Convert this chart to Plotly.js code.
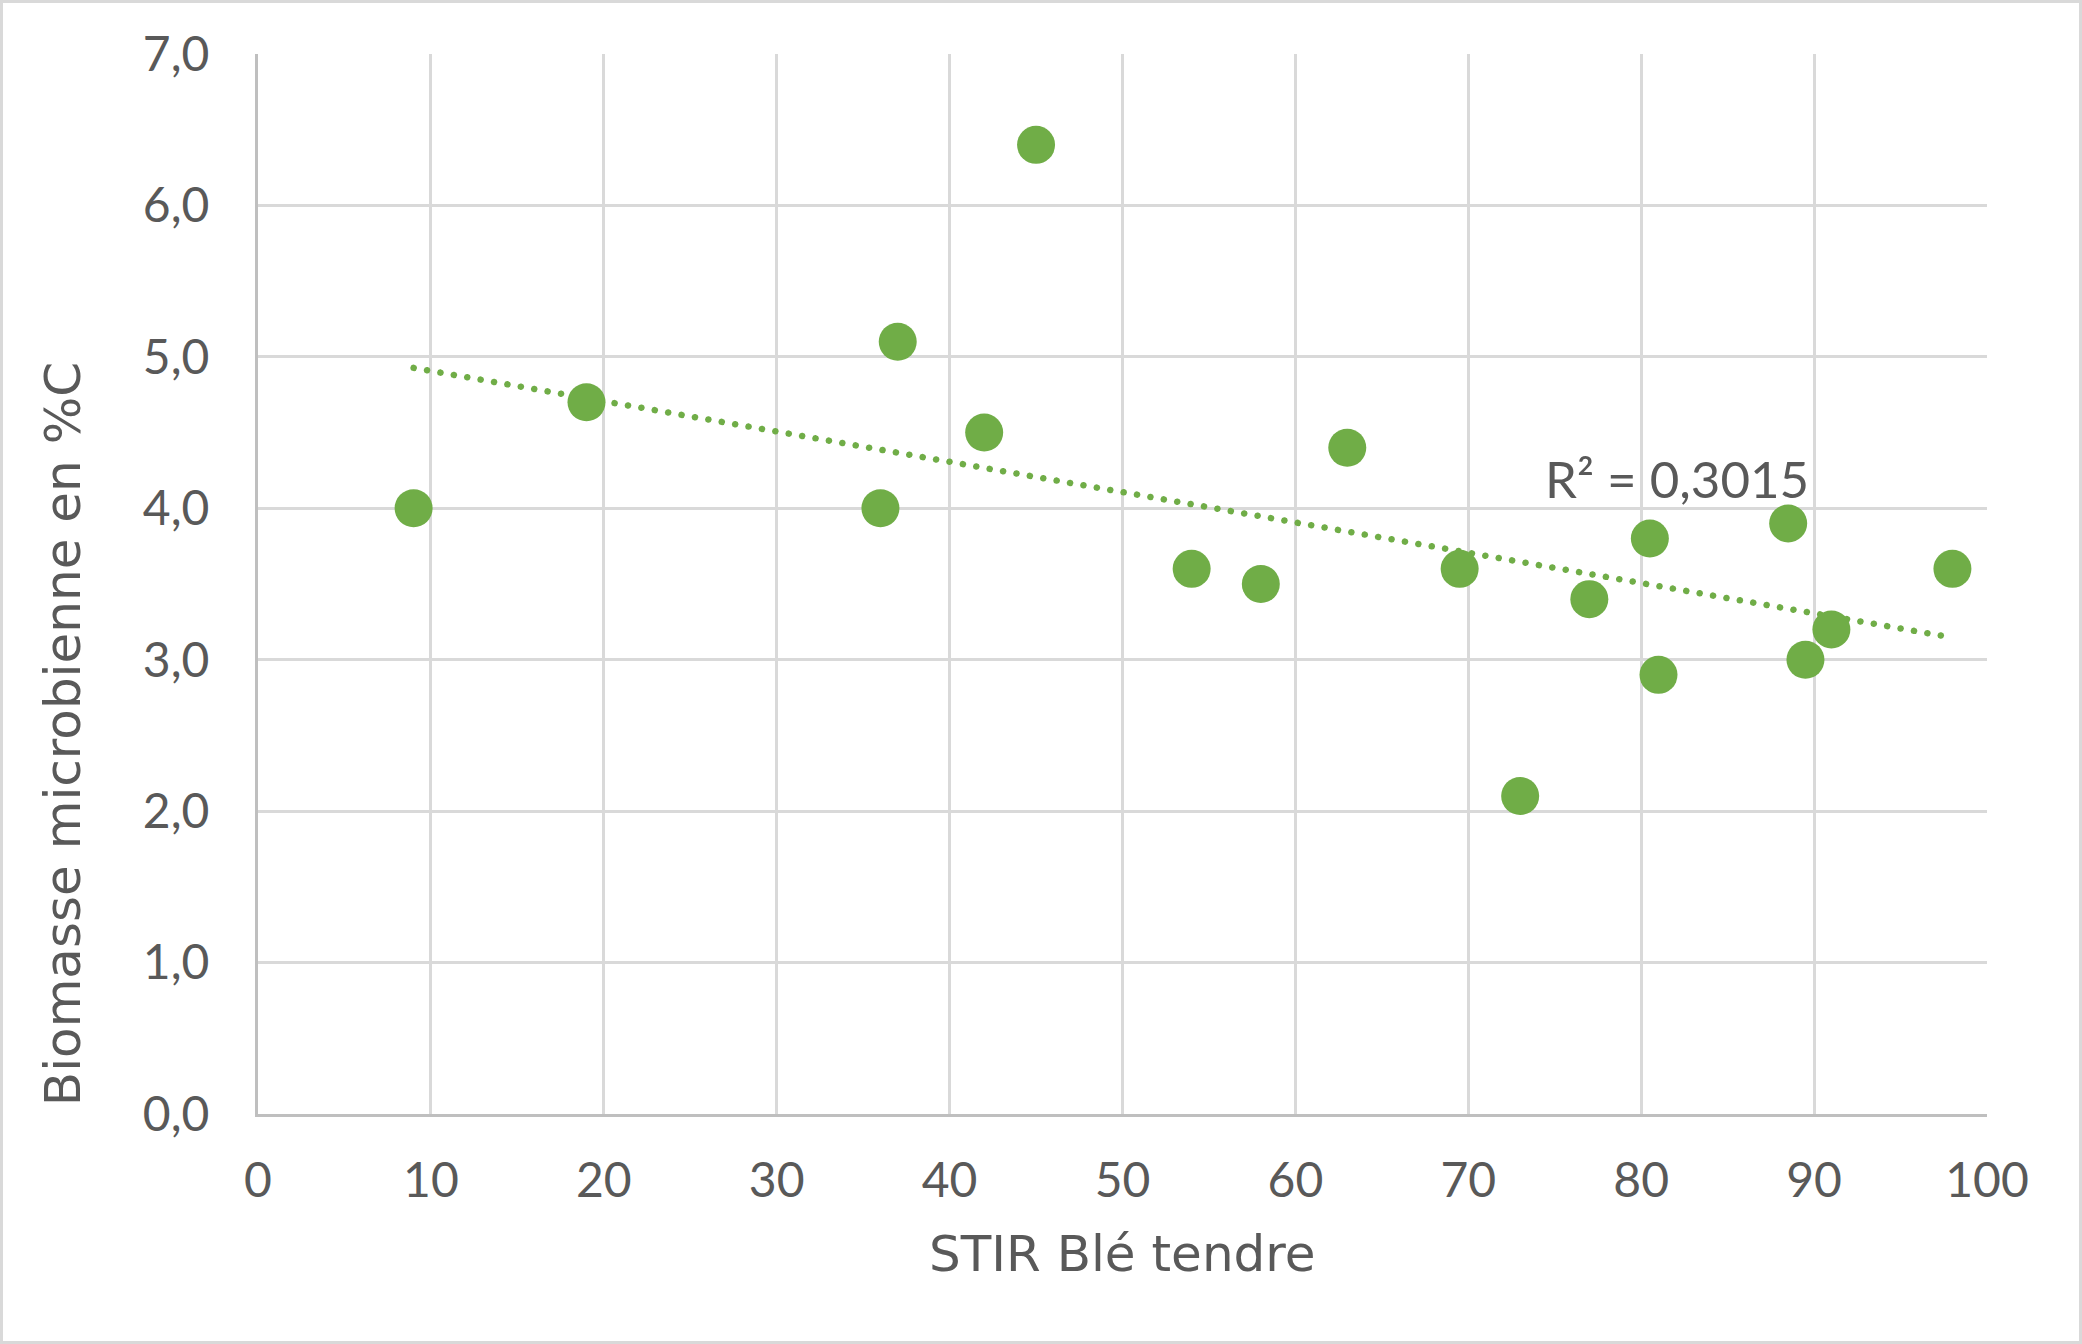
<!DOCTYPE html>
<html>
<head>
<meta charset="utf-8">
<script src="https://cdn.plot.ly/plotly-3.0.1.min.js"></script>
<style>
  html, body { margin: 0; padding: 0; background: #fff; }
  #wrap { position: relative; width: 2082px; height: 1344px; }
  #chart { position: absolute; left: 0; top: 0; width: 2082px; height: 1344px; }
  #frame { position: absolute; left: 0; top: 0; width: 2082px; height: 1344px; box-sizing: border-box; border: 3px solid #D9D9D9; pointer-events: none; }
  .scatterlayer .js-line { stroke-linecap: round !important; }
</style>
</head>
<body>
<div id="wrap">
  <div id="chart"></div>
  <div id="frame"></div>
</div>
<script>
// Data
const stirBle = [9, 19, 36, 37, 42, 45, 54, 58, 63, 69.5, 73, 77, 80.5, 81, 88.5, 89.5, 91, 98];
const biomasse = [4.0, 4.7, 4.0, 5.1, 4.5, 6.4, 3.6, 3.5, 4.4, 3.6, 2.1, 3.4, 3.8, 2.9, 3.9, 3.0, 3.2, 3.6];
const r2Label = "R² = 0,3015";
const xTitle = "STIR Blé tendre";
const yTitle = "Biomasse microbienne en %C";

// Linear least-squares trendline (as in the spreadsheet)
const n = stirBle.length;
const mx = stirBle.reduce((a, b) => a + b, 0) / n;
const my = biomasse.reduce((a, b) => a + b, 0) / n;
let sxy = 0, sxx = 0;
for (let i = 0; i < n; i++) { sxy += (stirBle[i] - mx) * (biomasse[i] - my); sxx += (stirBle[i] - mx) ** 2; }
const slope = sxy / sxx;
const intercept = my - slope * mx;
const xMin = Math.min(...stirBle), xMax = Math.max(...stirBle);
const trendX = [xMin, xMax];
const trendY = trendX.map(v => intercept + slope * v);

const fontFam = "Lato, 'Open Sans', sans-serif";
const titleFam = "'DejaVu Sans', sans-serif";
const grey = "#595959";

const traces = [
  {
    x: trendX, y: trendY, type: "scatter", mode: "lines",
    line: { color: "#70AD47", width: 6.5, dash: "0.1px,13.5px" },
    hoverinfo: "skip", showlegend: false
  },
  {
    x: stirBle, y: biomasse, type: "scatter", mode: "markers",
    marker: { color: "#70AD47", size: 38, line: { width: 0 } },
    showlegend: false
  }
];

const layout = {
  width: 2082, height: 1344,
  margin: { l: 258, r: 95, t: 54, b: 230 },
  paper_bgcolor: "#ffffff", plot_bgcolor: "#ffffff",
  separators: ", ",
  font: { family: fontFam, color: grey, size: 48 },
  showlegend: false,
  xaxis: {
    range: [0, 100], dtick: 10, tick0: 0,
    showgrid: true, gridcolor: "#D9D9D9", gridwidth: 3,
    showline: true, linecolor: "#BFBFBF", linewidth: 3,
    zeroline: false, ticks: "", ticklabelstandoff: 22,
    tickfont: { family: fontFam, size: 48, color: grey }
  },
  yaxis: {
    range: [0, 7], dtick: 1, tick0: 0, tickformat: ".1f",
    showgrid: true, gridcolor: "#D9D9D9", gridwidth: 3,
    showline: true, linecolor: "#BFBFBF", linewidth: 3,
    zeroline: false, ticks: "", ticklabelstandoff: 36,
    tickfont: { family: fontFam, size: 48, color: grey }
  },
  annotations: [
    {
      x: 74.3, y: 4.2, xref: "x", yref: "y", xanchor: "left", yanchor: "middle",
      text: r2Label, showarrow: false,
      font: { family: fontFam, size: 51, color: grey }
    },
    {
      x: -0.113, y: 0.358, xref: "paper", yref: "paper", xanchor: "center", yanchor: "middle",
      text: yTitle, textangle: -90, showarrow: false,
      font: { family: titleFam, size: 50, color: grey }
    },
    {
      x: 0.5, y: -0.132, xref: "paper", yref: "paper", xanchor: "center", yanchor: "middle",
      text: xTitle, showarrow: false,
      font: { family: titleFam, size: 50, color: grey }
    }
  ]
};

Plotly.newPlot("chart", traces, layout, { displayModeBar: false, staticPlot: true });
</script>
</body>
</html>
